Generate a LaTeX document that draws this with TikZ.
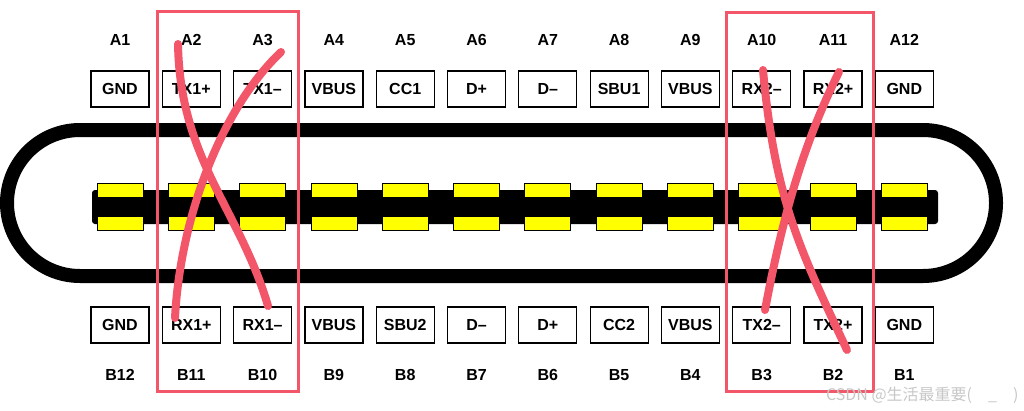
\documentclass[tikz,border=0pt]{standalone}
\usepackage{fontspec}
\setmainfont{Liberation Sans}
\newfontfamily\cjk{Noto Sans CJK SC}
\definecolor{markred}{HTML}{F25668}
\definecolor{padyellow}{HTML}{FFFF00}
\tikzset{
  pinbox/.style={draw, line width=1.2pt, minimum width=58pt, minimum height=36pt, inner sep=0pt, font=\bfseries\fontsize{16}{16}\selectfont},
  pinlabel/.style={font=\bfseries\fontsize{16}{16}\selectfont},
  pad/.style={fill=padyellow, draw=black, line width=0.8pt},
  scribble/.style={markred, line width=8pt, line cap=round},
  frame/.style={markred, line width=3pt}
}
\begin{document}
\begin{tikzpicture}[x=1pt,y=-1pt]
\useasboundingbox (0,0) rectangle (1024,410);
% plug outline
\draw[line width=14pt, rounded corners=73pt] (7,130) rectangle (996,276);
\fill[rounded corners=3pt] (92,190) rectangle (938,224);
% pins
\foreach \i/\top/\bot in {1/GND/GND, 2/TX1+/RX1+, 3/TX1–/RX1–, 4/VBUS/VBUS, 5/CC1/SBU2, 6/D+/D–, 7/D–/D+, 8/SBU1/CC2, 9/VBUS/VBUS, 10/RX2–/TX2–, 11/RX2+/TX2+, 12/GND/GND}{
  \pgfmathsetmacro{\xc}{120+71.3*(\i-1)}
  \pgfmathtruncatemacro{\b}{13-\i}
  \node[pinlabel] (a\i) at (\xc,40) {A\i};
  \node[pinbox] (t\i) at (\xc,89) {\top};
  \node[pinbox] (d\i) at (\xc,325) {\bot};
  \node[pinlabel] (b\i) at (\xc,375) {B\b};
  \draw[pad] (\xc-23,183) rectangle (\xc+23,197);
  \draw[pad] (\xc-23,216) rectangle (\xc+23,230);
}
% crossed pairs
\draw[frame] (157,11) rectangle (298,391);
\draw[frame] (726,12) rectangle (873,391);
\draw[scribble] (178,44) .. controls (180,160) and (240,210) .. (268,306);
\draw[scribble] (281,52) .. controls (220,110) and (180,220) .. (175,318);
\draw[scribble] (763,70) .. controls (775,200) and (800,250) .. (847,350);
\draw[scribble] (839,72) .. controls (800,150) and (780,230) .. (765,310);
\node[text=black!22, font=\cjk\fontsize{16}{16}\selectfont, anchor=east] (wm) at (1022,395) {CSDN @生活最重要(\quad\_\quad)};
\end{tikzpicture}
\end{document}
